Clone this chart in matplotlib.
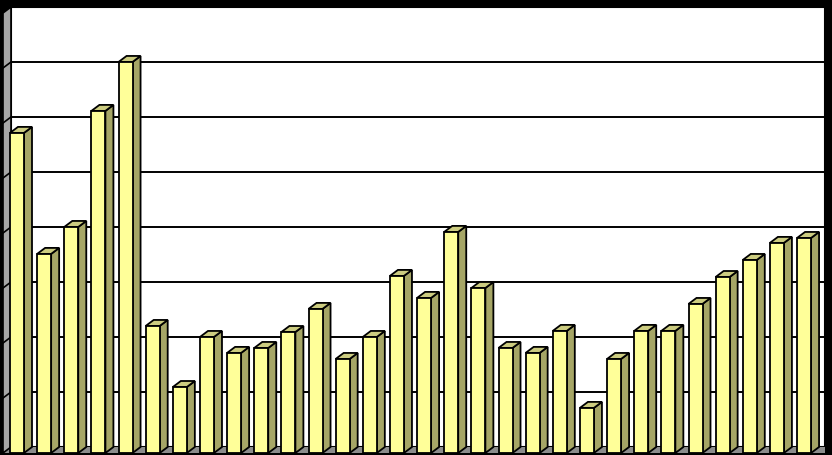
import numpy as np
import matplotlib.pyplot as plt
from matplotlib.patches import Polygon, Rectangle

# bar heights, one per category (no labels shown on the chart)
values = [5.82, 3.62, 4.11, 6.22, 7.11, 2.31, 1.20, 2.11, 1.82, 1.91,
          2.20, 2.62, 1.71, 2.11, 3.22, 2.82, 4.02, 3.00, 1.91, 1.82,
          2.22, 0.82, 1.71, 2.22, 2.22, 2.71, 3.20, 3.51, 3.82, 3.91]
grid_values = [1, 2, 3, 4, 5, 6, 7, 8]

front_col = '#ffff99'
side_col = '#a6a666'
top_col = '#cccc80'
wall_col = '#a6a6a6'
floor_col = '#8c8c8c'

# 3-D look: depth offsets in data units
px_x = 27.14   # pixels per category
px_y = 55.0    # pixels per value unit
dx = 8 / px_x
dy = 6 / px_y
width = 14 / px_x
lw = 1.3

fig = plt.figure(figsize=(8.32, 4.55), dpi=100, facecolor='black')
ax = fig.add_axes([0, 0, 1, 1])
ax.set_facecolor('black')
ax.set_xlim(-10 / px_x, (832 - 10) / px_x)
ax.set_ylim((447 - 455) / px_y, 447 / px_y)
ax.axis('off')

x_wall = 1 / px_x
x_right = 815 / px_x
top = grid_values[-1]

# back wall
ax.add_patch(Rectangle((x_wall, 0), x_right - x_wall, top,
                       facecolor='white', edgecolor='black', lw=1.5, zorder=1))
# floor
ax.add_patch(Polygon([(x_wall - dx, -dy), (x_right, -dy), (x_right, 0),
                      (x_wall, 0)], closed=True, facecolor=floor_col,
                     edgecolor='none', zorder=1))
# left side wall
ax.add_patch(Polygon([(x_wall - dx, -dy), (x_wall, 0), (x_wall, top),
                      (x_wall - dx, top - dy)], closed=True,
                     facecolor=wall_col, edgecolor='black', lw=1.2, zorder=2))
for g in grid_values[:-1]:
    ax.plot([x_wall, x_right], [g, g], color='black', lw=1.4, zorder=1.5)
    ax.plot([x_wall - dx, x_wall], [g - dy, g], color='black', lw=1.2, zorder=2.5)

# bars
x = np.arange(len(values))
ax.bar(x, np.array(values), width=width, bottom=-dy, align='edge',
       color=front_col, edgecolor='black', lw=lw, zorder=4)
for xi, v in zip(x, values):
    ax.add_patch(Polygon([(xi + width, -dy), (xi + width + dx, 0),
                          (xi + width + dx, v), (xi + width, v - dy)],
                         closed=True, facecolor=side_col, edgecolor='black',
                         lw=lw, zorder=3))
    ax.add_patch(Polygon([(xi, v - dy), (xi + width, v - dy),
                          (xi + width + dx, v), (xi + dx, v)],
                         closed=True, facecolor=top_col, edgecolor='black',
                         lw=lw, zorder=3))

fig.savefig('out.png', dpi=100, facecolor='black')
